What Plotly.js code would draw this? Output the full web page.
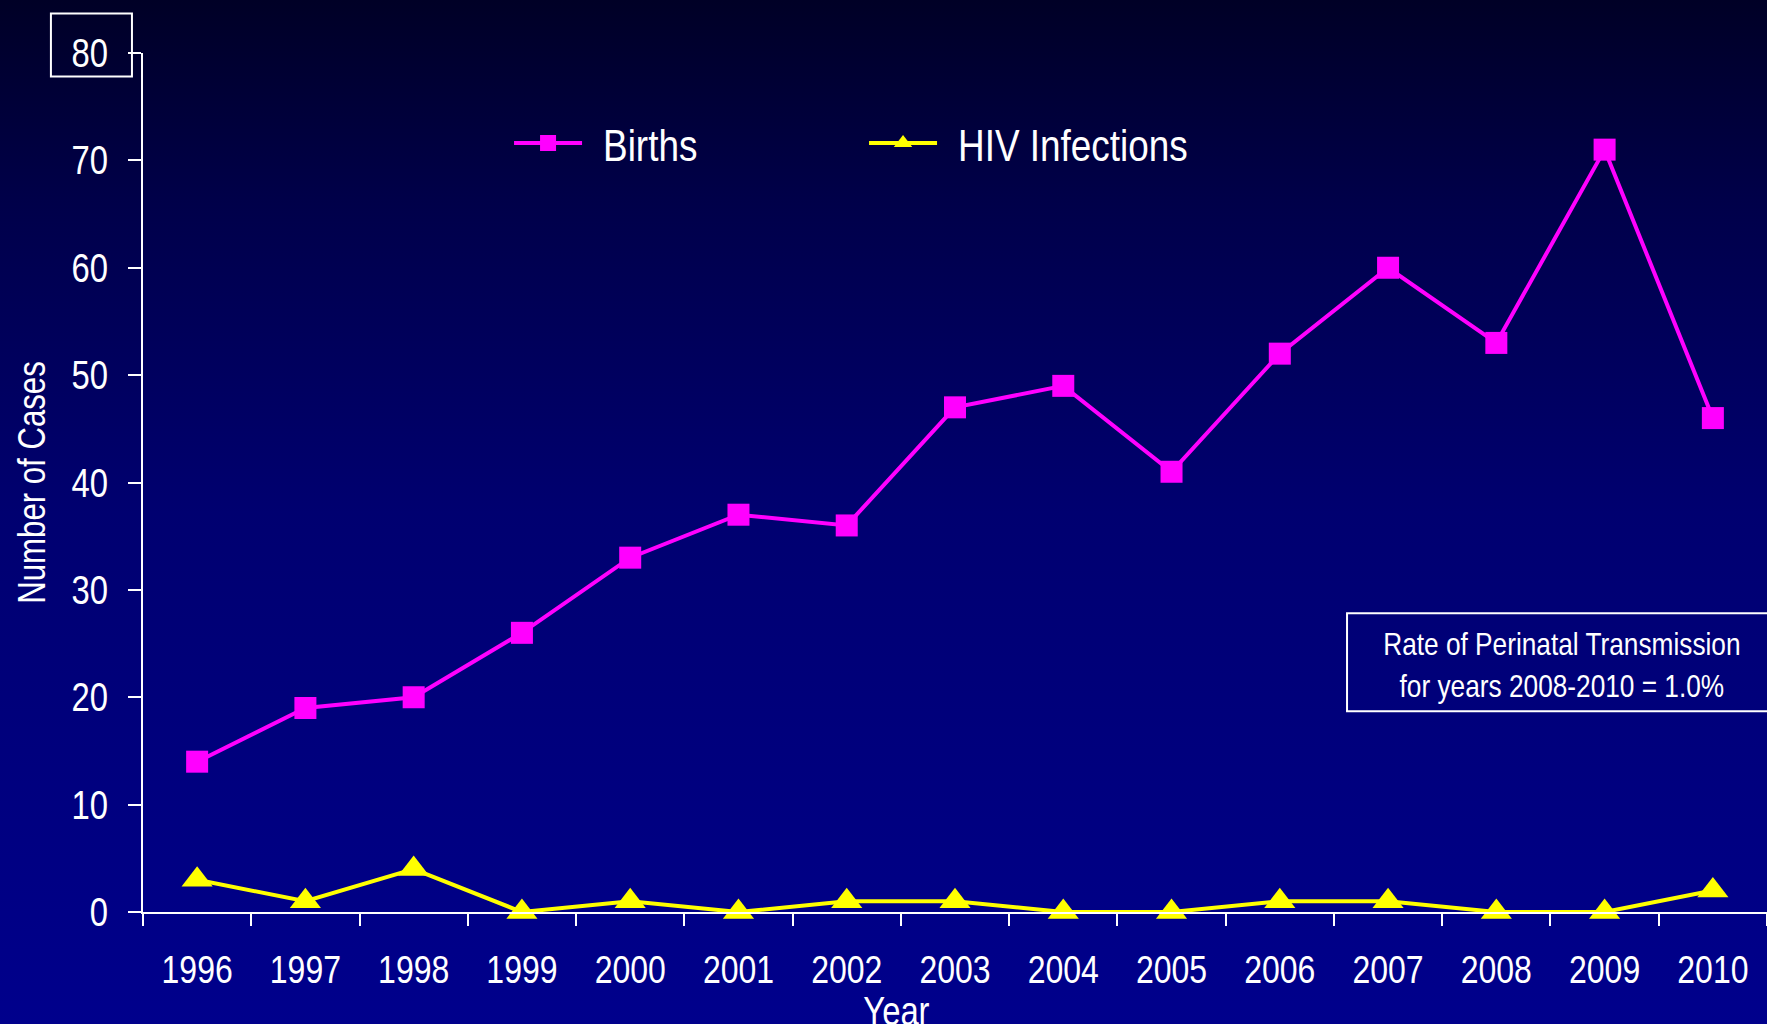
<!DOCTYPE html>
<html>
<head>
<meta charset="utf-8">
<script src="https://cdn.plot.ly/plotly-3.0.1.min.js"></script>
<style>
  html, body { margin: 0; padding: 0; width: 1767px; height: 1024px; overflow: hidden;
    background: linear-gradient(to bottom, #000026 0%, #00004a 20%, #000070 50%, #00008c 100%); }
  #chart { width: 1767px; height: 1024px; }
</style>
</head>
<body>
<div id="chart"></div>
<script>
const years = ["1996","1997","1998","1999","2000","2001","2002","2003","2004","2005","2006","2007","2008","2009","2010"];
const births = [14, 19, 20, 26, 33, 37, 36, 47, 49, 41, 52, 60, 53, 71, 46];
const hivInfections = [3, 1, 4, 0, 1, 0, 1, 1, 0, 0, 1, 1, 0, 0, 2];
const yTicks = [0, 10, 20, 30, 40, 50, 60, 70, 80];
const noteText = "Rate of Perinatal Transmission<br>for years 2008-2010 = 1.0%";

const FONT = "'Liberation Sans', Arial, sans-serif";
const NARROW = 0.82; // horizontal condensing of all texts (narrow face)

const traces = [
  {
    x: years, y: births, name: "Births", type: "scatter", mode: "lines+markers",
    line: {color: "#ff00ff", width: 4},
    marker: {symbol: "square", size: 22, color: "#ff00ff"},
    cliponaxis: false
  },
  {
    x: years, y: hivInfections, name: "HIV Infections", type: "scatter", mode: "lines+markers",
    line: {color: "#ffff00", width: 4},
    marker: {symbol: "triangle-up", size: 27, color: "#ffff00"},
    cliponaxis: false
  }
];

const layout = {
  width: 1767, height: 1024,
  paper_bgcolor: "rgba(0,0,0,0)",
  plot_bgcolor: "rgba(0,0,0,0)",
  margin: {l: 143, r: 0, t: 53, b: 112, pad: 0},
  font: {family: FONT, color: "#ffffff", size: 38},
  showlegend: true,
  legend: {
    orientation: "h", x: 0.2254, xanchor: "left", y: 0.895, yanchor: "middle",
    font: {family: FONT, size: 45, color: "#ffffff"},
    bgcolor: "rgba(0,0,0,0)", entrywidth: 272, itemwidth: 68
  },
  xaxis: {
    type: "category", range: [-0.5, 14.5], tickson: "boundaries",
    showline: true, linecolor: "#ffffff", linewidth: 2,
    ticks: "outside", ticklen: 12, tickwidth: 2, tickcolor: "#ffffff",
    showgrid: false, zeroline: false, fixedrange: true,
    tickfont: {family: FONT, size: 39, color: "#ffffff"},
    ticklabelstandoff: 22
  },
  yaxis: {
    range: [0, 80], tickvals: yTicks,
    showline: true, linecolor: "#ffffff", linewidth: 2,
    ticks: "outside", ticklen: 13, tickwidth: 2, tickcolor: "#ffffff",
    showgrid: false, zeroline: false, fixedrange: true,
    tickfont: {family: FONT, size: 40, color: "#ffffff"},
    ticklabelstandoff: 12,
    title: {text: "Number of Cases", font: {family: FONT, size: 38, color: "#ffffff"}, standoff: 6}
  },
  shapes: [
    {type: "rect", xref: "paper", yref: "paper", x0: -0.0567, x1: -0.0068, y0: 0.9725, y1: 1.046,
     line: {color: "#ffffff", width: 2}, fillcolor: "rgba(0,0,0,0)"},
    {type: "rect", xref: "paper", yref: "paper", x0: 0.7414, x1: 1.01, y0: 0.2337, y1: 0.3478,
     line: {color: "#ffffff", width: 2}, fillcolor: "rgba(0,0,0,0)"}
  ],
  annotations: [
    {text: noteText, xref: "paper", yref: "paper", x: 0.8738, y: 0.2875, xanchor: "center", yanchor: "middle",
     showarrow: false, align: "center", font: {family: FONT, size: 32, color: "#ffffff"}},
    {text: "Year", xref: "paper", yref: "paper", x: 0.4637, y: -0.087, xanchor: "center", yanchor: "top",
     showarrow: false, font: {family: FONT, size: 40, color: "#ffffff"}}
  ]
};

function condense(el) {
  const L = el.getComputedTextLength();
  if (L > 0) {
    el.setAttribute("textLength", (L * NARROW).toFixed(2));
    el.setAttribute("lengthAdjust", "spacingAndGlyphs");
  }
}

Plotly.newPlot("chart", traces, layout, {displayModeBar: false, staticPlot: true}).then(function (gd) {
  gd.querySelectorAll("svg text").forEach(function (t) {
    const lines = t.querySelectorAll("tspan.line");
    if (lines.length) lines.forEach(condense);
    else condense(t);
    if (t.classList.contains("legendtext")) {
      t.setAttribute("x", (parseFloat(t.getAttribute("x") || 0) + 16).toFixed(1));
    }
  });
});
</script>
</body>
</html>
